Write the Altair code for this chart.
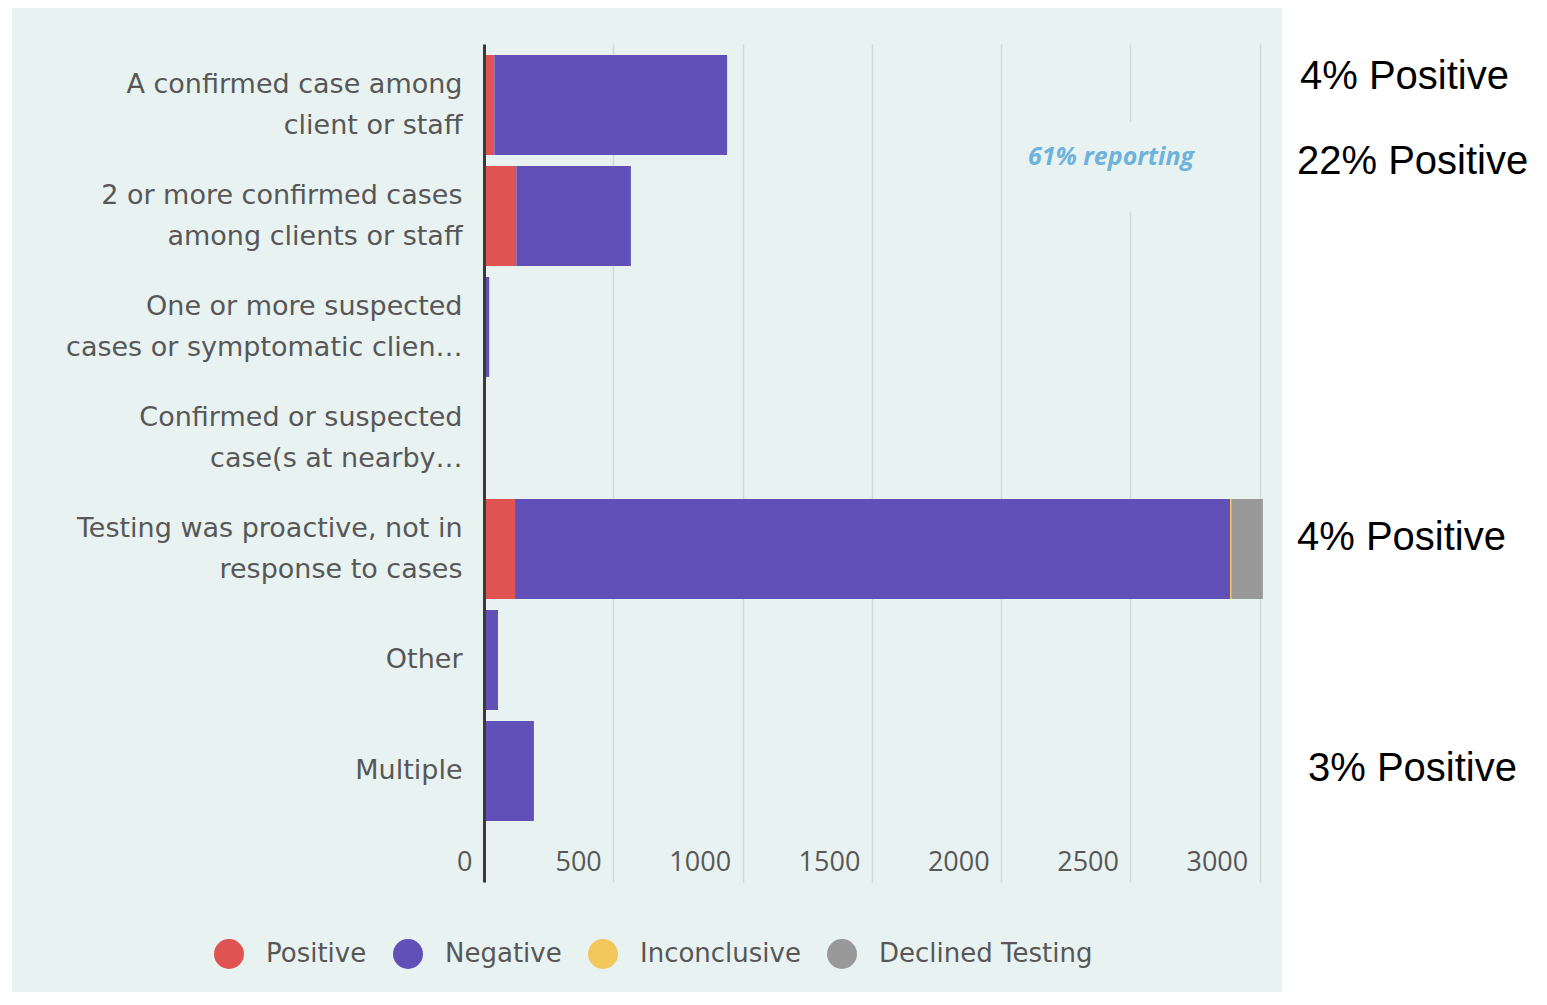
import altair as alt
import pandas as pd

categories = [
    "A confirmed case among\nclient or staff",
    "2 or more confirmed cases\namong clients or staff",
    "One or more suspected\ncases or symptomatic clien…",
    "Confirmed or suspected\ncase(s at nearby…",
    "Testing was proactive, not in\nresponse to cases",
    "Other",
    "Multiple",
]
statuses = ["Positive", "Negative", "Inconclusive", "Declined Testing"]
positive = [40, 125, 0, 0, 120, 0, 5]
negative = [900, 443, 20, 0, 2765, 54, 188]
inconclusive = [0, 0, 0, 0, 5, 0, 0]
declined = [0, 0, 0, 0, 122, 0, 0]
colors = ["#e05353", "#6150b8", "#f2c75c", "#999999"]
x_ticks = [0, 500, 1000, 1500, 2000, 2500, 3000]
annotations = ["4% Positive", "22% Positive", "4% Positive", "3% Positive"]
note = "61% reporting"

series = [positive, negative, inconclusive, declined]
rows = []
for i, c in enumerate(categories):
    for k, s in enumerate(statuses):
        rows.append({"category": c, "status": s, "value": series[k][i], "k": k})
df = pd.DataFrame(rows)

PW, PH = 798, 838
XMAX = 3086
FONT = "DejaVu Sans"
NUMFONT = "Open Sans"
TXT = "#575757"
BG = "#E8F2F1"

bars = alt.Chart(df).mark_bar().encode(
    y=alt.Y(
        "category:N",
        sort=categories,
        scale=alt.Scale(domain=categories, paddingInner=0.1, paddingOuter=0.325, align=0.153),
        axis=alt.Axis(
            title=None, ticks=False, domain=True, domainColor="#3a3a3a", domainWidth=3,
            labelFont=FONT, labelFontSize=27, labelColor=TXT, labelPadding=22,
            labelLineHeight=41, labelLimit=600, grid=False, zindex=1,
            labelExpr="split(datum.label, '\\n')",
            labelOffset={"condition": {"test": "indexof(datum.value, '\\n') >= 0", "value": -20}, "value": 0},
        ),
    ),
    x=alt.X(
        "value:Q",
        stack="zero",
        scale=alt.Scale(domain=[0, XMAX], nice=False, zero=True),
        axis=alt.Axis(
            title=None, values=x_ticks, format="d", ticks=False, domain=False, grid=True,
            gridColor="#d2d9d9", gridWidth=1.5, labelFont=NUMFONT, labelFontSize=27,
            labelColor=TXT, labelAlign="right", labelBaseline="middle",
            labelPadding=-20, labelOffset=-12, labelFlush=False, labelOverlap=False,
        ),
    ),
    color=alt.Color(
        "status:N",
        scale=alt.Scale(domain=statuses, range=colors),
        sort=statuses,
        legend=alt.Legend(
            title=None, orient="none", legendX=-270, legendY=895, direction="horizontal",
            symbolType="circle", symbolSize=900, symbolStrokeWidth=0, labelFont=FONT,
            labelFontSize=26, labelColor=TXT, labelOffset=22, columnPadding=26, padding=0,
            labelLimit=400,
        ),
    ),
    order=alt.Order("k:Q"),
)

one = pd.DataFrame({"a": [0]})

white_right = alt.Chart(one).mark_rect(color="white").encode(
    x=alt.value(PW), x2=alt.value(PW + 300), y=alt.value(-60), y2=alt.value(1000)
)
white_left = alt.Chart(one).mark_rect(color="white").encode(
    x=alt.value(-480), x2=alt.value(-472), y=alt.value(-60), y2=alt.value(1000)
)
note_bg = alt.Chart(one).mark_rect(color=BG).encode(
    x=alt.value(528), x2=alt.value(761), y=alt.value(78), y2=alt.value(168)
)
note_txt = alt.Chart(pd.DataFrame({"t": [note]})).mark_text(
    font="Open Sans", fontSize=25, fontWeight="bold", fontStyle="italic", color="#6db3db",
    align="center", baseline="middle",
).encode(text="t:N", x=alt.value(627), y=alt.value(113))

ann_pos = [(816, 33), (813, 118), (813, 494), (824, 725)]
ann_layers = []
for t, (px, py) in zip(annotations, ann_pos):
    ann_layers.append(
        alt.Chart(pd.DataFrame({"t": [t]})).mark_text(
            font="Liberation Sans", fontSize=40, color="black", align="left", baseline="middle"
        ).encode(text="t:N", x=alt.value(px), y=alt.value(py))
    )

chart = alt.layer(bars, note_bg, note_txt, white_right, white_left, *ann_layers).properties(
    width=PW, height=PH,
    autosize=alt.AutoSizeParams(type="none"),
    padding={"left": 476, "top": 36, "right": 256, "bottom": 110},
).configure(background=BG).configure_view(stroke=None)

chart.save("out.html", embed_options={"renderer": "svg", "actions": False})
